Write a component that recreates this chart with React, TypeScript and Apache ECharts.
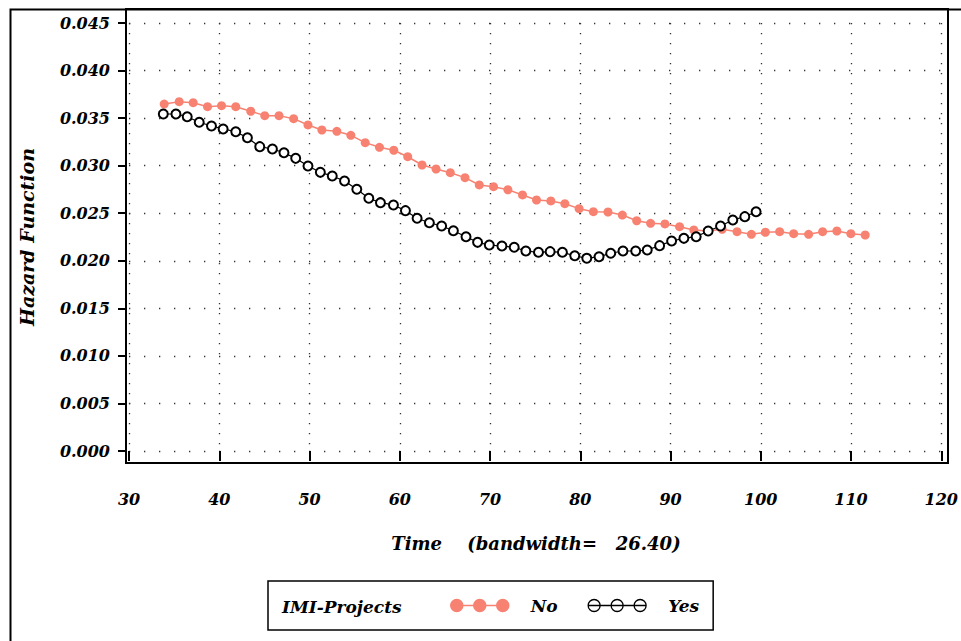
import React, { useEffect, useRef } from "react";
import * as echarts from "echarts";

const xTickMin = 30;
const xTickMax = 120;
const xTickStep = 10;
const yTickMin = 0;
const yTickMax = 0.045;
const yTickStep = 0.005;

const seriesNames = ["No", "Yes"];
const legendTitle = "IMI-Projects";
const yTitle = "Hazard Function";
const xTitle = "Time    (bandwidth=   26.40)";

const noTime = [33.9, 35.56, 37.11, 38.7, 40.25, 41.83, 43.49, 45.04, 46.62, 48.24, 49.83, 51.37, 53.03, 54.58, 56.17, 57.75, 59.34, 60.88, 62.47, 64.02, 65.6, 67.23, 68.81, 70.39, 71.98, 73.6, 75.15, 76.74, 78.29, 79.87, 81.45, 83.07, 84.66, 86.25, 87.79, 89.38, 91.0, 92.58, 94.17, 95.72, 97.37, 98.96, 100.51, 102.09, 103.64, 105.3, 106.85, 108.43, 109.98, 111.57];
const noHazard = [0.03648, 0.03673, 0.03662, 0.0362, 0.03631, 0.0362, 0.03572, 0.03526, 0.03526, 0.03494, 0.03428, 0.03375, 0.03361, 0.03319, 0.03242, 0.03193, 0.03162, 0.03094, 0.03007, 0.02965, 0.02926, 0.02874, 0.02797, 0.02779, 0.02747, 0.02692, 0.02639, 0.02629, 0.026, 0.02548, 0.02516, 0.02513, 0.02481, 0.02421, 0.02394, 0.02387, 0.02358, 0.02324, 0.02313, 0.02331, 0.02306, 0.02278, 0.023, 0.02306, 0.02285, 0.02278, 0.02306, 0.02313, 0.02285, 0.02271];

const yesTime = [33.8, 35.2, 36.45, 37.78, 39.14, 40.43, 41.83, 43.12, 44.49, 45.89, 47.17, 48.47, 49.83, 51.2, 52.52, 53.88, 55.24, 56.57, 57.86, 59.3, 60.63, 61.92, 63.28, 64.64, 65.94, 67.34, 68.62, 69.92, 71.32, 72.68, 73.97, 75.37, 76.66, 78.02, 79.39, 80.72, 82.08, 83.37, 84.73, 86.14, 87.42, 88.79, 90.12, 91.48, 92.84, 94.17, 95.54, 96.9, 98.23, 99.48];
const yesHazard = [0.03543, 0.03543, 0.03515, 0.03456, 0.03417, 0.03386, 0.03357, 0.03294, 0.032, 0.03175, 0.03136, 0.03077, 0.02997, 0.0293, 0.02891, 0.02839, 0.02752, 0.02657, 0.02611, 0.02587, 0.02527, 0.02447, 0.024, 0.02366, 0.02316, 0.02253, 0.02194, 0.02166, 0.02155, 0.02142, 0.02103, 0.02089, 0.02096, 0.02089, 0.02053, 0.02026, 0.02043, 0.02079, 0.02103, 0.02103, 0.02113, 0.02159, 0.02208, 0.02236, 0.02253, 0.02313, 0.02366, 0.02429, 0.02464, 0.02516];

const SALMON = "#F88272";
const FONT = "DejaVu Serif";

const circ = (cx: number) => `M${cx - 6},6 a6,6 0 1,0 12,0 a6,6 0 1,0 -12,0 Z`;
const iconNo = `path://${circ(6)} ${circ(29)} ${circ(52)} M12,6 L23,6 M35,6 L46,6`;
const iconYes = `path://${circ(6)} ${circ(29)} ${circ(52)} M0,6 L58,6`;

export default function App() {
  const ref = useRef<HTMLDivElement>(null);
  useEffect(() => {
    if (!ref.current) return;
    const chart = echarts.init(ref.current, null, { renderer: "svg" });
    const labelStyle = {
      fontFamily: FONT,
      fontStyle: "italic" as const,
      fontWeight: "bold" as const,
      color: "#000",
    };
    chart.setOption({
      animation: false,
      backgroundColor: "#fff",
      grid: [
        { left: 126, right: 13, top: 9, bottom: 178, show: true, borderColor: "#000", borderWidth: 2, backgroundColor: "transparent" },
        { left: 129, right: 18, top: 23, bottom: 190 },
      ],
      xAxis: [
        { gridIndex: 0, type: "value", min: 29.67, max: 120.55, show: false },
        {
          gridIndex: 1,
          type: "value",
          min: xTickMin,
          max: xTickMax,
          interval: xTickStep,
          offset: 12,
          axisLine: { show: false },
          axisTick: { show: true, length: 10, lineStyle: { color: "#000", width: 2 } },
          axisLabel: { ...labelStyle, fontSize: 16, margin: 28 },
          splitLine: { show: true, lineStyle: { color: "#333", width: 1.3, type: [1.3, 8.7] } },
        },
      ],
      yAxis: [
        { gridIndex: 0, type: "value", min: -0.00126, max: 0.0465, show: false },
        {
          gridIndex: 1,
          type: "value",
          min: yTickMin,
          max: yTickMax,
          interval: yTickStep,
          offset: 3,
          axisLine: { show: false },
          axisTick: { show: true, length: 8, lineStyle: { color: "#000", width: 2 } },
          axisLabel: { ...labelStyle, fontSize: 16, margin: 16, formatter: (v: number) => v.toFixed(3) },
          splitLine: { show: true, lineStyle: { color: "#333", width: 1.3, type: [1.3, 13.7] } },
        },
      ],
      legend: {
        left: 268,
        top: 581,
        orient: "horizontal",
        borderColor: "#000",
        borderWidth: 1.5,
        padding: [16, 14, 16, 182],
        itemWidth: 58,
        itemHeight: 12,
        itemGap: 28,
        textStyle: { ...labelStyle, fontSize: 17, padding: [0, 0, 0, 17] },
        data: [
          { name: seriesNames[0], icon: iconNo, itemStyle: { color: SALMON, borderColor: SALMON, borderWidth: 1.5 } },
          { name: seriesNames[1], icon: iconYes, itemStyle: { color: "none", borderColor: "#000", borderWidth: 1.3 } },
        ],
      },
      graphic: [
        { type: "rect", left: 8, top: 7, shape: { width: 1100, height: 800 }, style: { fill: "none", stroke: "#000", lineWidth: 2 }, z: -1, silent: true },
        { type: "text", x: 282, y: 607, style: { text: legendTitle, font: `italic bold 17px "${FONT}"`, fill: "#000", textVerticalAlign: "middle" } },
        { type: "text", x: 536, y: 543, style: { text: xTitle, font: `italic bold 18px "${FONT}"`, fill: "#000", textAlign: "center", textVerticalAlign: "middle" } },
        { type: "text", x: 27, y: 237, rotation: Math.PI / 2, style: { text: yTitle, font: `italic bold 19px "${FONT}"`, fill: "#000", textAlign: "center", textVerticalAlign: "middle" } },
      ],
      series: [
        {
          name: seriesNames[0],
          type: "line",
          xAxisIndex: 1,
          yAxisIndex: 1,
          data: noTime.map((t, i) => [t, noHazard[i]]),
          symbol: "circle",
          symbolSize: 9,
          itemStyle: { color: SALMON },
          lineStyle: { color: SALMON, width: 1.5 },
          z: 3,
        },
        {
          name: seriesNames[1],
          type: "line",
          xAxisIndex: 1,
          yAxisIndex: 1,
          data: yesTime.map((t, i) => [t, yesHazard[i]]),
          symbol: "emptyCircle",
          symbolSize: 9,
          itemStyle: { color: "#000", borderColor: "#000", borderWidth: 1.4 },
          lineStyle: { color: "#000", width: 1.2 },
          z: 4,
        },
      ],
    });
    return () => chart.dispose();
  }, []);
  return <div ref={ref} style={{ position: "fixed", left: 0, top: 0, width: 961, height: 641 }} />;
}
